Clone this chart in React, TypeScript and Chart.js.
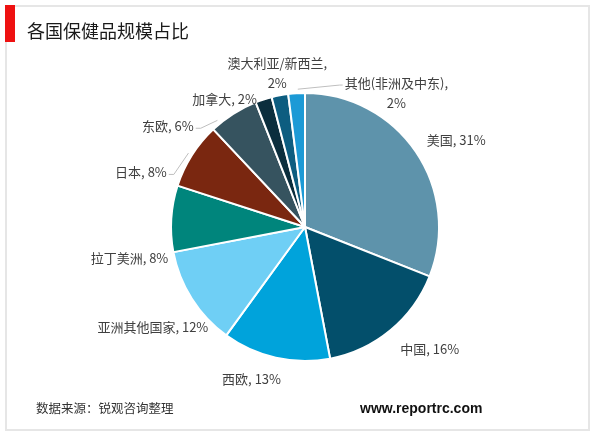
import React, { useEffect, useRef } from "react";
import { Chart, registerables } from "chart.js";

Chart.register(...registerables);

// ---- data ----
const categories = [
  "美国",
  "中国",
  "西欧",
  "亚洲其他国家",
  "拉丁美洲",
  "日本",
  "东欧",
  "加拿大",
  "澳大利亚/新西兰",
  "其他(非洲及中东)",
];
const shares = [31, 16, 13, 12, 8, 8, 6, 2, 2, 2];

// ---- styles / layout ----
const sliceColors = [
  "#5e93ab",
  "#034f6b",
  "#00a3db",
  "#6fcff5",
  "#00857c",
  "#7a2710",
  "#36535f",
  "#0b2e3d",
  "#0d5d80",
  "#1c9ad6",
];
// label placement: degrees clockwise from 12 o'clock, distance as a fraction of the radius
const labelAngle = [60.2, 134.3, 199.4, 236.6, 260, 288.4, 306.3, 327.9, 349.8, 34.3];
const labelDist = [1.3, 1.3, 1.2, 1.36, 1.33, 1.29, 1.27, 1.13, 1.17, 1.21];
const labelWrap = [false, false, false, false, false, false, false, false, true, true];
const leaderAngle: (number | null)[] = [null, null, null, null, null, 302.4, 320.6, null, null, 357];

const FONT_CJK = '"Noto Sans CJK SC", "Microsoft YaHei", sans-serif';

const labelPlugin = {
  id: "sliceLabels",
  afterDatasetsDraw(chart: any) {
    const ctx = chart.ctx as CanvasRenderingContext2D;
    const meta = chart.getDatasetMeta(0);
    ctx.save();
    ctx.font = `13px ${FONT_CJK}`;
    ctx.fillStyle = "#404040";
    ctx.textAlign = "center";
    ctx.textBaseline = "middle";
    meta.data.forEach((arc: any, i: number) => {
      const { x, y, outerRadius } = arc;
      const a = ((labelAngle[i] - 90) * Math.PI) / 180;
      const lx = x + Math.cos(a) * outerRadius * labelDist[i];
      const ly = y + Math.sin(a) * outerRadius * labelDist[i];
      const lines = labelWrap[i]
        ? [`${categories[i]},`, `${shares[i]}%`]
        : [`${categories[i]}, ${shares[i]}%`];
      const lh = 20;
      const y0 = ly - ((lines.length - 1) * lh) / 2;
      lines.forEach((t, k) => ctx.fillText(t, lx, y0 + k * lh));
      const la = leaderAngle[i];
      if (la != null) {
        const w = ctx.measureText(lines[0]).width;
        const b = ((la - 90) * Math.PI) / 180;
        const ex = x + Math.cos(b) * (outerRadius + 4);
        const ey = y + Math.sin(b) * (outerRadius + 4);
        const labelIsLeft = lx < ex;
        const sx = labelIsLeft ? lx + w / 2 + 2 : lx - w / 2 - 2;
        const sy = y0 + 2;
        ctx.beginPath();
        ctx.moveTo(sx, sy);
        ctx.lineTo(sx + (labelIsLeft ? 5 : -3), sy);
        ctx.lineTo(ex, ey);
        ctx.strokeStyle = "#bfbfbf";
        ctx.lineWidth = 1;
        ctx.stroke();
      }
    });
    ctx.restore();
  },
};

export default function App() {
  const ref = useRef<HTMLCanvasElement | null>(null);

  useEffect(() => {
    if (!ref.current) return;
    const chart = new Chart(ref.current, {
      type: "pie",
      data: {
        labels: categories,
        datasets: [
          {
            data: shares,
            backgroundColor: sliceColors,
            borderColor: "#ffffff",
            borderWidth: 2,
          },
        ],
      },
      options: {
        responsive: false,
        animation: false,
        events: [],
        layout: { padding: { left: 170, right: 160, top: 92, bottom: 71 } },
        plugins: {
          legend: { display: false },
          tooltip: { enabled: false },
          title: { display: false },
        },
      },
      plugins: [labelPlugin],
    });
    return () => chart.destroy();
  }, []);

  return (
    <div
      style={{
        position: "absolute",
        left: 0,
        top: 0,
        width: 600,
        height: 433,
        background: "#ffffff",
        overflow: "hidden",
        fontFamily: FONT_CJK,
      }}
    >
      <div
        style={{
          position: "absolute",
          left: 5,
          top: 5,
          width: 581,
          height: 422,
          border: "2px solid #e6e6e6",
        }}
      />
      <canvas
        ref={ref}
        width={600}
        height={433}
        style={{ position: "absolute", left: 0, top: 0, width: 600, height: 433 }}
      />
      <div
        style={{
          position: "absolute",
          left: 5,
          top: 5,
          width: 10,
          height: 37,
          background: "#ee1111",
        }}
      />
      <div
        style={{
          position: "absolute",
          left: 27,
          top: 21,
          fontSize: 18,
          lineHeight: "18px",
          color: "#1a1a1a",
          whiteSpace: "nowrap",
        }}
      >
        各国保健品规模占比
      </div>
      <div
        style={{
          position: "absolute",
          left: 36,
          top: 402,
          fontSize: 12.5,
          lineHeight: "12.5px",
          color: "#333333",
          whiteSpace: "nowrap",
        }}
      >
        数据来源：锐观咨询整理
      </div>
      <div
        style={{
          position: "absolute",
          left: 360,
          top: 401,
          fontSize: 14,
          lineHeight: "14px",
          fontWeight: "bold",
          color: "#111111",
          fontFamily: '"Liberation Sans", Arial, sans-serif',
          whiteSpace: "nowrap",
        }}
      >
        www.reportrc.com
      </div>
    </div>
  );
}
